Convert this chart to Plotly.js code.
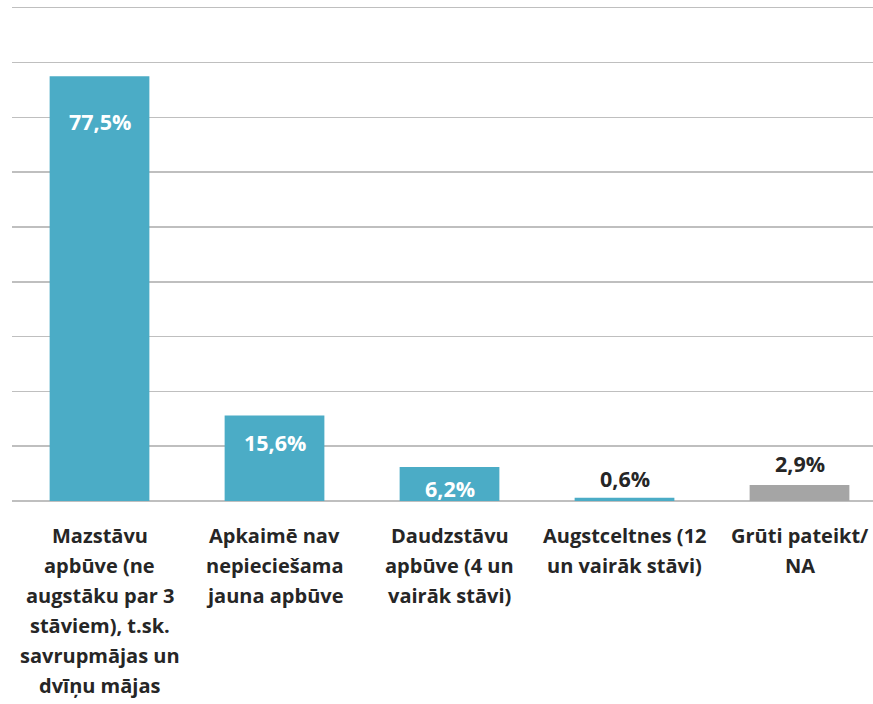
<!DOCTYPE html>
<html>
<head>
<meta charset="utf-8">
<script src="https://cdn.plot.ly/plotly-3.0.1.min.js"></script>
<style>html,body{margin:0;padding:0;background:#fff;}#chart{width:873px;height:704px;}</style>
</head>
<body>
<div id="chart"></div>
<script>
// Data
const categories = ["Mazstāvu", "Apkaimē", "Daudzstāvu", "Augstceltnes", "Grūti"];
const categoryLines = [
  ["Mazstāvu", "apbūve (ne", "augstāku par 3", "stāviem), t.sk.", "savrupmājas un", "dvīņu mājas"],
  ["Apkaimē nav", "nepieciešama", "jauna apbūve"],
  ["Daudzstāvu", "apbūve (4 un", "vairāk stāvi)"],
  ["Augstceltnes (12", "un vairāk stāvi)"],
  ["Grūti pateikt/", "NA"]
];
const values = [77.5, 15.6, 6.2, 0.6, 2.9];
const labelInside = [true, true, true, false, false];
const labelShift = [-45, -27, -21, 19, 22];

const barColors = ["#4BACC6", "#4BACC6", "#4BACC6", "#4BACC6", "#A5A5A5"];
const fontFamily = "'Open Sans', sans-serif";

const trace = {
  type: "bar",
  x: categories,
  y: values,
  width: 0.57,
  marker: { color: barColors },
  hoverinfo: "none"
};

const annotations = [];
values.forEach((v, i) => {
  annotations.push({
    x: categories[i], y: v, xref: "x", yref: "y",
    text: v.toFixed(1).replace(".", ",") + "%",
    showarrow: false, yanchor: "middle", yshift: labelShift[i],
    font: { family: fontFamily, size: 21.5, color: labelInside[i] ? "#FFFFFF" : "#262626", weight: 700 }
  });
});
categoryLines.forEach((lines, i) => {
  lines.forEach((ln, j) => {
    annotations.push({
      x: categories[i], y: 0, xref: "x", yref: "paper",
      text: ln, showarrow: false, yanchor: "middle",
      yshift: -34.3 - 30 * j,
      font: { family: fontFamily, size: 20, color: "#262626", weight: 700 }
    });
  });
});

const layout = {
  width: 873, height: 704,
  margin: { l: 12, r: 0, t: 5, b: 203 },
  paper_bgcolor: "#FFFFFF", plot_bgcolor: "#FFFFFF",
  showlegend: false,
  xaxis: {
    type: "category",
    range: [-0.5, 4.42],
    showticklabels: false, showgrid: false, zeroline: false, showline: false, ticks: ""
  },
  yaxis: {
    range: [0, 90.5], dtick: 10, tick0: 0,
    showticklabels: false, showgrid: true, gridcolor: "#BFBFBF", gridwidth: 1.5,
    zeroline: true, zerolinecolor: "#BFBFBF", zerolinewidth: 1.5, showline: false, ticks: ""
  },
  annotations: annotations
};

Plotly.newPlot("chart", [trace], layout, { displayModeBar: false, staticPlot: true });
</script>
</body>
</html>
